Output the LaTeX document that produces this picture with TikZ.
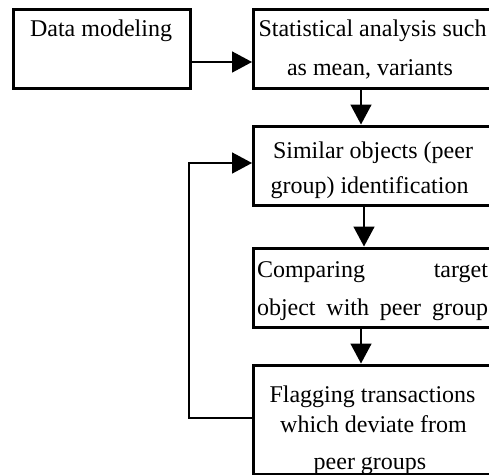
\documentclass[tikz,border=0pt]{standalone}
\usepackage{fontspec}
\setmainfont{Liberation Serif}
\usetikzlibrary{arrows.meta}
\begin{document}
\begin{tikzpicture}[x=1pt,y=-1pt,
  box/.style={draw,line width=3pt,inner sep=0pt,anchor=north west},
  txt/.style={anchor=base,inner sep=0pt,font=\fontsize{24}{28}\selectfont},
  arr/.style={line width=1.6pt,-{Triangle[length=20pt,width=21pt]}},
  ]
\useasboundingbox (0,0) rectangle (489,474);
\clip (0,0) rectangle (489,474);
% boxes
\node[box,minimum width=177pt,minimum height=78.5pt] (dm) at (12,8) {};
\node[box,minimum width=241pt,minimum height=78.5pt] (stat) at (252,8) {};
\node[box,minimum width=241pt,minimum height=79.5pt] (sim) at (252,124.5) {};
\node[box,minimum width=241.5pt,minimum height=79pt] (cmp) at (251.5,246.5) {};
\node[box,minimum width=241.5pt,minimum height=109.5pt] (flag) at (251.5,363.5) {};
% texts
\node[txt] (dmt) at (101,36) {Data modeling};
\node[txt] (st1) at (372.5,36) {Statistical analysis such};
\node[txt] (st2) at (370,75) {as mean, variants};
\node[txt] (si1) at (373,158) {Similar objects (peer};
\node[txt] (si2) at (369.5,193) {group) identification};
\node[txt] (cm1) at (372.5,277) {\makebox[231pt][s]{Comparing target}};
\node[txt] (cm2) at (372.5,315) {\makebox[231pt][s]{object with peer group}};
\node[txt] (fl1) at (372.5,402) {Flagging transactions};
\node[txt] (fl2) at (373.5,432) {which deviate from};
\node[txt] (fl3) at (370,469) {peer groups};
% connectors
\draw[arr] (dm.east |- 0,62) -- (stat.west |- 0,62);
\draw[arr] (stat.south -| 361,0) -- (sim.north -| 361,0);
\draw[arr] (sim.south -| 364,0) -- (cmp.north -| 364,0);
\draw[arr] (cmp.south -| 361,0) -- (flag.north -| 361,0);
\coordinate (fb) at (189,290);
\draw[arr] (flag.west |- 0,418) -| (fb) |- (sim.west |- 0,163);
\end{tikzpicture}
\end{document}
